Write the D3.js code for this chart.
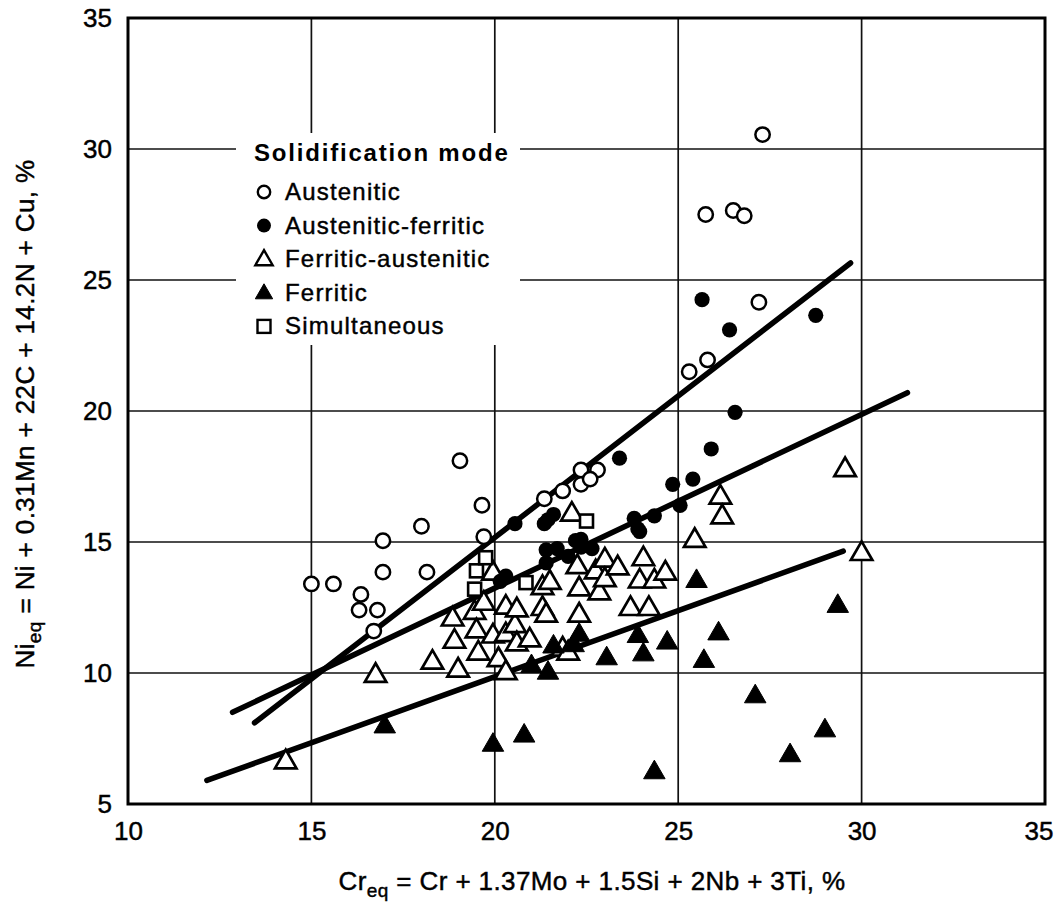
<!DOCTYPE html>
<html>
<head>
<meta charset="utf-8">
<script src="https://cdn.jsdelivr.net/npm/d3@7"></script>
<style>
  html, body { margin: 0; padding: 0; background: #fff; }
  svg { display: block; font-family: "Liberation Sans", Arial, sans-serif; }
</style>
</head>
<body>
<svg id="chart" width="1061" height="905"></svg>
<script>
// ---- data (Cr_eq, Ni_eq) ----
const xTicks = [10, 15, 20, 25, 30, 35];
const yTicks = [5, 10, 15, 20, 25, 30, 35];

const austenitic = [
  [15.0,13.4],[15.6,13.4],[16.35,13.0],[16.3,12.4],[16.8,12.4],[16.7,11.6],
  [16.95,15.05],[16.95,13.85],[18.0,15.6],[18.15,13.85],[19.05,18.1],[19.65,16.4],
  [19.7,15.2],[21.35,16.65],[21.85,16.95],[22.35,17.75],[22.8,17.75],[22.35,17.2],
  [22.6,17.4],[25.3,21.5],[25.8,21.95],[27.2,24.15],[25.75,27.5],[26.5,27.65],
  [26.8,27.45],[27.3,30.55]
];
const austeniticFerritic = [
  [20.15,13.5],[20.3,13.7],[20.55,15.7],[21.35,15.7],[21.45,15.85],[21.6,16.05],
  [21.4,14.2],[21.4,14.7],[21.7,14.75],[22.0,14.45],[22.2,15.05],[22.35,14.8],
  [22.35,15.1],[22.65,14.75],[23.4,18.2],[23.8,15.9],[23.9,15.5],[23.95,15.4],
  [24.35,16.0],[24.85,17.2],[25.05,16.4],[25.4,17.4],[25.9,18.55],[26.55,19.95],
  [25.65,24.25],[26.4,23.1],[28.75,23.65]
];
const ferriticAustenitic = [
  [14.3,6.6],[16.75,9.9],[18.3,10.4],[19.0,10.1],[18.9,11.2],[18.85,12.05],
  [19.45,12.3],[19.5,11.6],[19.55,10.75],[19.7,12.65],[19.95,13.8],[19.95,11.4],
  [20.1,10.5],[20.3,10.0],[20.3,11.45],[20.3,12.5],[20.55,11.8],[20.6,12.4],
  [20.6,11.1],[20.95,11.25],[21.3,13.25],[21.3,12.45],[21.4,12.2],[21.5,13.45],
  [21.85,10.9],[22.0,10.75],[22.1,16.05],[22.25,14.05],[22.3,13.2],[22.3,12.2],
  [22.75,13.85],[22.85,13.05],[23.0,14.3],[23.0,13.55],[23.35,14.0],[23.7,12.45],
  [23.95,13.5],[24.05,14.35],[24.2,12.45],[24.35,13.5],[24.65,13.8],[25.45,15.05],
  [26.15,16.7],[26.2,15.95],[29.55,17.75],[30.0,14.55]
];
const ferritic = [
  [17.0,7.95],[19.95,7.25],[20.8,7.6],[21.0,10.25],[21.45,10.0],[21.6,11.0],
  [22.15,11.05],[22.3,11.45],[23.05,10.55],[23.9,11.4],[24.05,10.7],[24.7,11.15],
  [25.5,13.5],[25.7,10.45],[26.1,11.5],[27.1,9.1],[28.05,6.85],[29.0,7.8],
  [29.35,12.55],[24.35,6.2]
];
const simultaneous = [
  [19.45,13.2],[19.5,13.9],[19.75,14.4],[20.85,13.45],[22.5,15.8]
];

// boundary lines (end points)
const lineA = [[13.45,8.1],[29.7,25.65]];
const lineB = [[12.85,8.5],[31.25,20.7]];
const lineC = [[12.15,5.9],[29.5,14.65]];

const legendTitle = "Solidification mode";
const legendLabels = ["Austenitic","Austenitic-ferritic","Ferritic-austenitic","Ferritic","Simultaneous"];

// ---- drawing ----
(function () {
const svg = d3.select("#chart");
const pL = 128, pR = 1045, pT = 18, pB = 804;
const x = d3.scaleLinear().domain([10, 35]).range([pL, pR]);
const y = d3.scaleLinear().domain([5, 35]).range([pB, pT]);
const ink = sel => sel.attr("fill", "#000").attr("stroke", "#000").attr("stroke-width", 0.45);

// grid
const grid = svg.append("g");
grid.selectAll("line.v").data(xTicks.slice(1, -1)).join("line")
  .attr("x1", d => x(d)).attr("x2", d => x(d)).attr("y1", pT).attr("y2", pB)
  .attr("stroke", "#111").attr("stroke-width", 1.7);
grid.selectAll("line.h").data(yTicks.slice(1, -1)).join("line")
  .attr("y1", d => y(d)).attr("y2", d => y(d)).attr("x1", pL).attr("x2", pR)
  .attr("stroke", "#111").attr("stroke-width", 1.7);

// legend background (covers grid)
svg.append("rect").attr("x", 236).attr("y", 133).attr("width", 284).attr("height", 212).attr("fill", "#fff");

// frame
svg.append("rect").attr("x", pL).attr("y", pT).attr("width", pR - pL).attr("height", pB - pT)
  .attr("fill", "none").attr("stroke", "#000").attr("stroke-width", 3);

// axes tick labels
const xAxis = d3.axisBottom(x).tickValues(xTicks).tickSize(0).tickPadding(18);
const gx = svg.append("g").attr("transform", `translate(0,${pB})`).call(xAxis);
gx.select(".domain").remove();
gx.selectAll("text").attr("font-size", 26).attr("font-family", "Liberation Sans, Arial, sans-serif").call(ink);
gx.selectAll(".tick").filter(d => d === 35).select("text").attr("text-anchor", "end").attr("x", 8);

const yAxis = d3.axisLeft(y).tickValues(yTicks).tickSize(0).tickPadding(16);
const gy = svg.append("g").attr("transform", `translate(${pL},0)`).call(yAxis);
gy.select(".domain").remove();
gy.selectAll("text").attr("font-size", 26).attr("font-family", "Liberation Sans, Arial, sans-serif").call(ink);

// axis titles
const xt = svg.append("text").attr("x", 592).attr("y", 890).attr("text-anchor", "middle")
  .attr("font-size", 26).attr("letter-spacing", 0.4).call(ink);
xt.append("tspan").text("Cr");
xt.append("tspan").attr("font-size", 19).attr("dy", 7).text("eq");
xt.append("tspan").attr("dy", -7).text(" = Cr + 1.37Mo + 1.5Si + 2Nb + 3Ti, %");

const yt = svg.append("text").attr("transform", "translate(34,414) rotate(-90)").attr("text-anchor", "middle")
  .attr("font-size", 26).attr("letter-spacing", 0.4).call(ink);
yt.append("tspan").text("Ni");
yt.append("tspan").attr("font-size", 19).attr("dy", 7).text("eq");
yt.append("tspan").attr("dy", -7).text(" = Ni + 0.31Mn + 22C + 14.2N + Cu, %");

// boundary lines
const lineGen = d3.line().x(d => x(d[0])).y(d => y(d[1]));
svg.append("g").selectAll("path").data([lineA, lineB, lineC]).join("path")
  .attr("d", lineGen).attr("fill", "none").attr("stroke", "#000")
  .attr("stroke-width", 5.5).attr("stroke-linecap", "round");

// markers
const triPath = d3.symbol().type(d3.symbolTriangle).size(200)();
const triPathSmall = d3.symbol().type(d3.symbolTriangle).size(130)();
const pts = svg.append("g");

pts.selectAll("path.fa").data(ferriticAustenitic).join("path")
  .attr("d", triPath).attr("transform", d => `translate(${x(d[0])},${y(d[1])})`)
  .attr("fill", "#fff").attr("stroke", "#000").attr("stroke-width", 2.7).attr("stroke-linejoin", "miter");
pts.selectAll("path.f").data(ferritic).join("path")
  .attr("d", triPath).attr("transform", d => `translate(${x(d[0])},${y(d[1])})`)
  .attr("fill", "#000").attr("stroke", "#000").attr("stroke-width", 1);
pts.selectAll("rect.s").data(simultaneous).join("rect")
  .attr("x", d => x(d[0]) - 6.5).attr("y", d => y(d[1]) - 6.5).attr("width", 13).attr("height", 13)
  .attr("fill", "#fff").attr("stroke", "#000").attr("stroke-width", 2.6);
pts.selectAll("circle.a").data(austenitic).join("circle")
  .attr("cx", d => x(d[0])).attr("cy", d => y(d[1])).attr("r", 7.2)
  .attr("fill", "#fff").attr("stroke", "#000").attr("stroke-width", 2.5);
pts.selectAll("circle.af").data(austeniticFerritic).join("circle")
  .attr("cx", d => x(d[0])).attr("cy", d => y(d[1])).attr("r", 7.6)
  .attr("fill", "#000");

// legend
const lg = svg.append("g");
lg.append("text").attr("x", 254).attr("y", 161).attr("font-size", 24).attr("font-weight", "bold")
  .attr("letter-spacing", 1.8).attr("fill", "#000").text(legendTitle);
const rowY = i => 192 + i * 33.6;
lg.selectAll("text.item").data(legendLabels).join("text")
  .attr("x", 285).attr("y", (d, i) => rowY(i) + 8).attr("font-size", 24)
  .attr("letter-spacing", 1.2).call(ink).text(d => d);
const mx = 264;
lg.append("circle").attr("cx", mx).attr("cy", rowY(0)).attr("r", 6.2).attr("fill", "#fff").attr("stroke", "#000").attr("stroke-width", 2.4);
lg.append("circle").attr("cx", mx).attr("cy", rowY(1)).attr("r", 7).attr("fill", "#000");
lg.append("path").attr("d", triPathSmall).attr("transform", `translate(${mx},${rowY(2) + 1})`)
  .attr("fill", "#fff").attr("stroke", "#000").attr("stroke-width", 2.4);
lg.append("path").attr("d", triPathSmall).attr("transform", `translate(${mx},${rowY(3) + 1})`)
  .attr("fill", "#000").attr("stroke", "#000").attr("stroke-width", 1);
lg.append("rect").attr("x", mx - 6.5).attr("y", rowY(4) - 6.5).attr("width", 13).attr("height", 13)
  .attr("fill", "#fff").attr("stroke", "#000").attr("stroke-width", 2.4);
})();
</script>
</body>
</html>
